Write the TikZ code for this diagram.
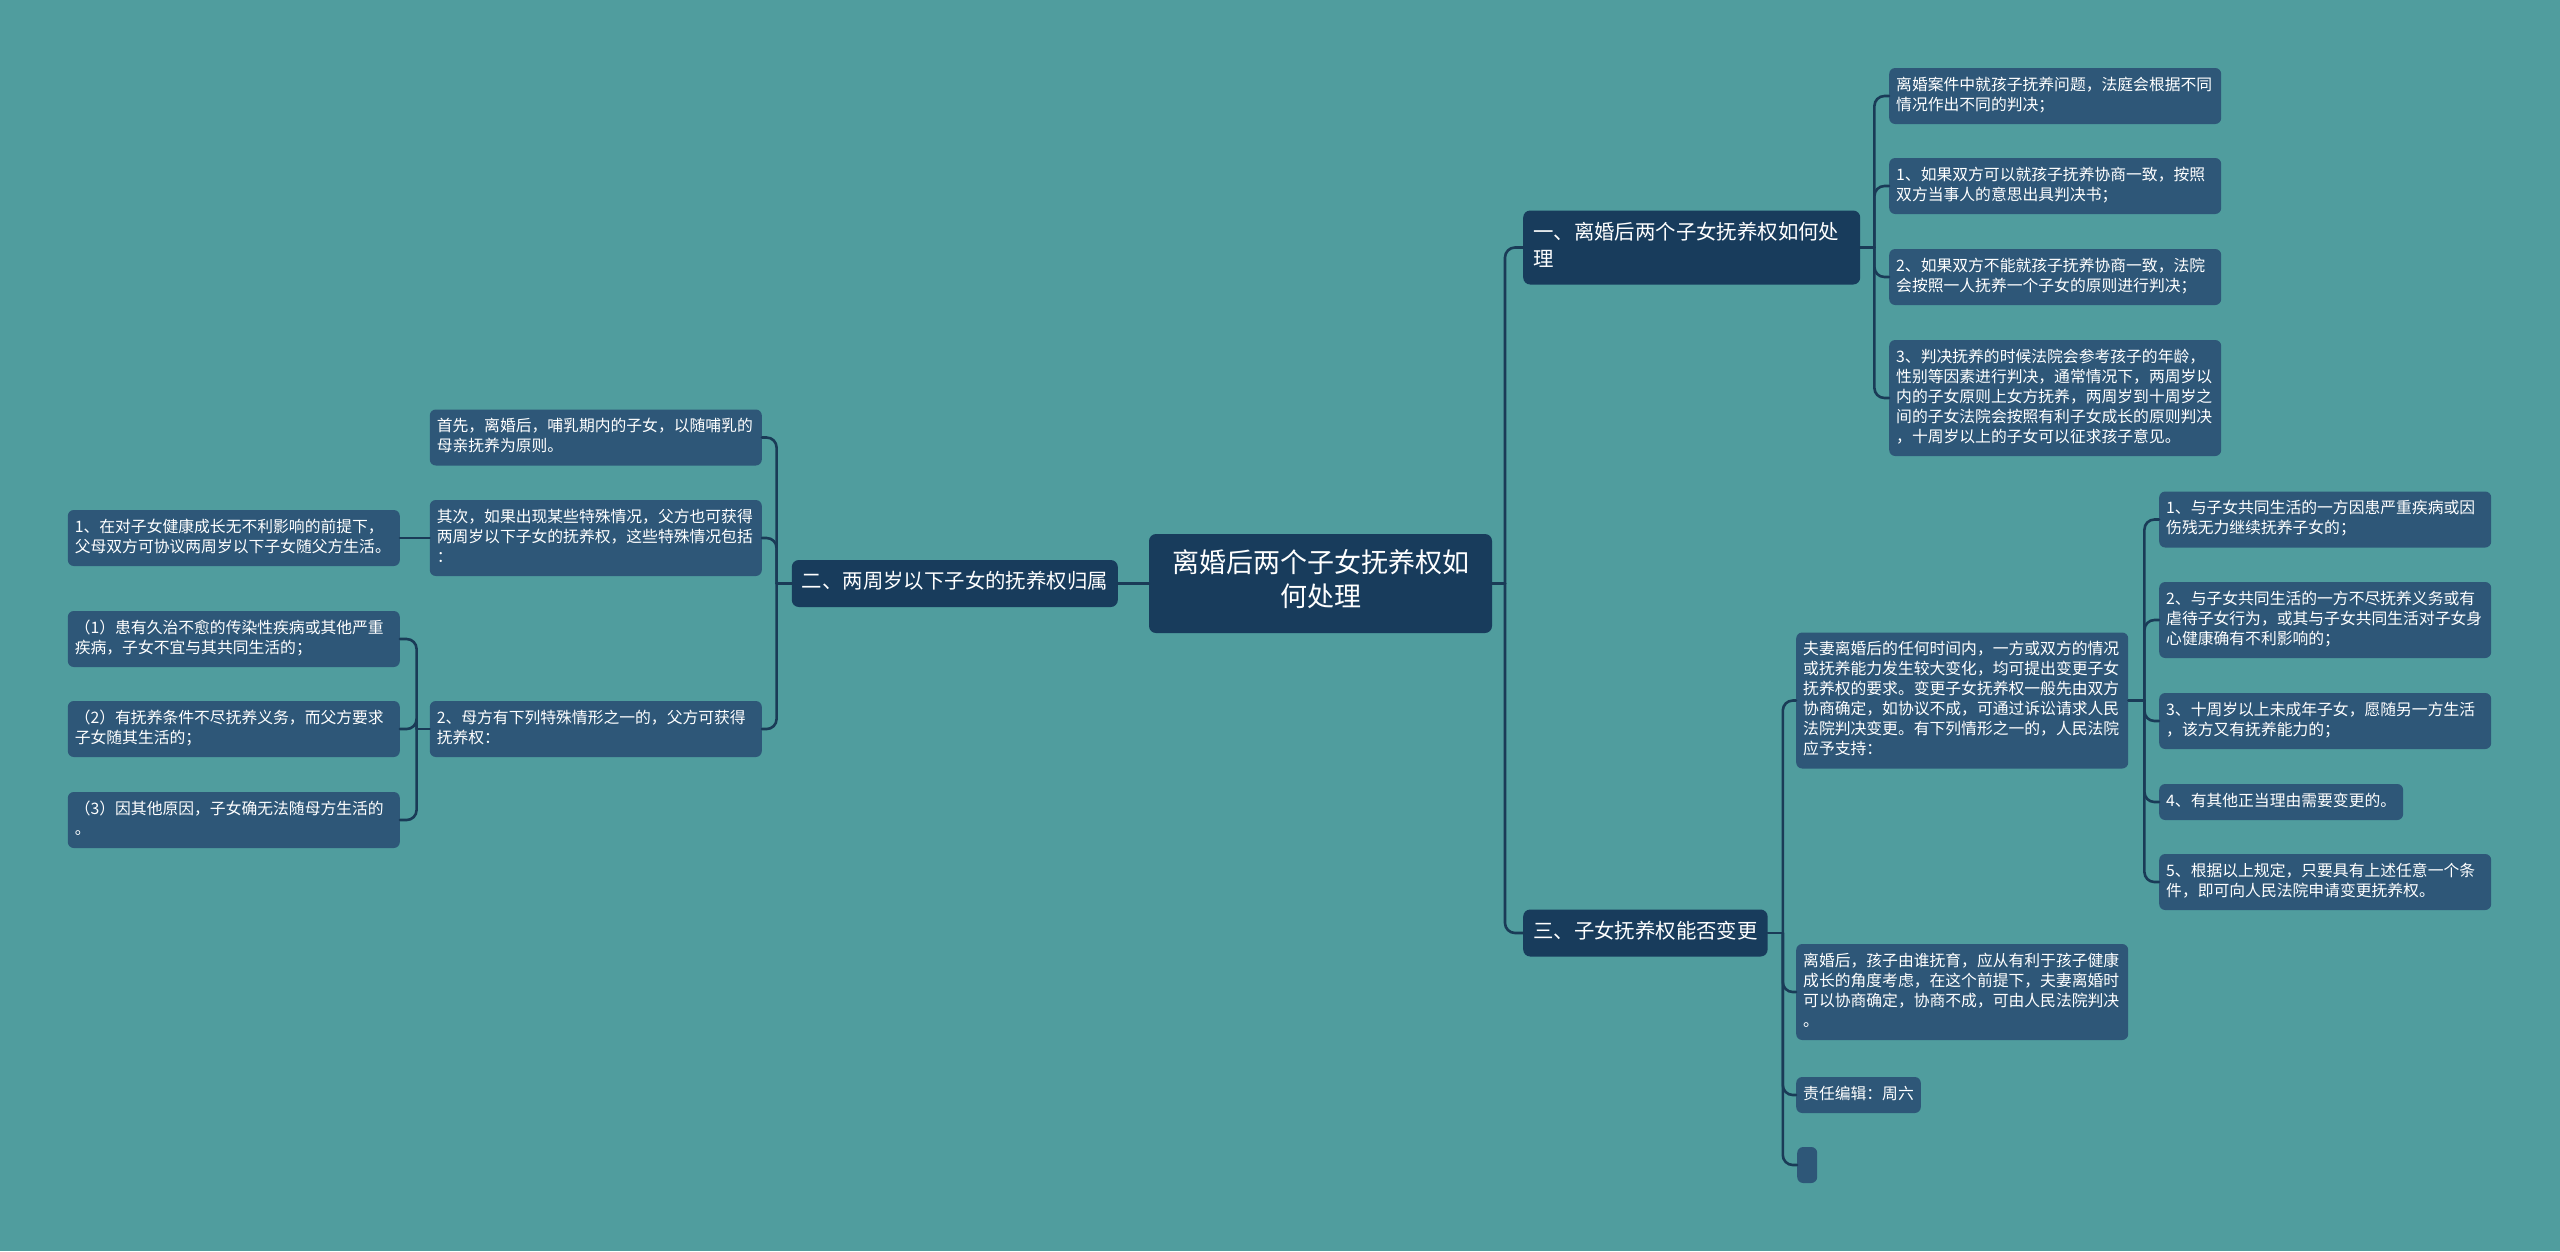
\documentclass[tikz,border=0pt]{standalone}
\usepackage{fontspec}
\setmainfont{Noto Sans CJK SC}
\usetikzlibrary{calc}
\definecolor{bgteal}{RGB}{80,157,158}
\definecolor{rootblue}{RGB}{24,60,92}
\definecolor{leafblue}{RGB}{46,87,120}
\definecolor{wirecol}{RGB}{26,59,87}
\tikzstyle{every path}=[line cap=round,line join=round]

\begin{document}
\begin{tikzpicture}[x=1pt,y=-1pt]
	\tikzstyle{topic} = [fill=rootblue, rounded corners=7pt, text=white, inner xsep=10pt, inner ysep=10pt,
		align=left, font=\fontsize{20.4}{27}\selectfont, execute at begin node={\strut}, execute at end node={\strut}]
	\tikzstyle{tag} = [fill=leafblue, rounded corners=6pt, text=white, inner xsep=7pt, inner ysep=8pt,
		font=\fontsize{15.8}{20}\selectfont, execute at begin node={\strut}, execute at end node={\strut}]
	\tikzstyle{leaf} = [tag, text width=318pt, align=left]
	\tikzstyle{wire} = [draw=wirecol, line width=2.6pt, rounded corners=10pt]
	
	\fill[bgteal] (0,0) rectangle (2560,1251);
	\useasboundingbox (0,0) rectangle (2560,1251);
	
	\node[topic, align=center, inner sep=0pt, minimum width=343pt, minimum height=99pt,
		font=\fontsize{27}{34}\selectfont] (root) at (1320.5,583.5) {离婚后两个子女抚养权如\\何处理};
	
	\node[topic, anchor=west, text width=317pt] (sec1) at (1523,247.5) {一、离婚后两个子女抚养权如何处\\理};
	\node[topic, anchor=east] (sec2) at (1118,583.5) {二、两周岁以下子女的抚养权归属};
	\node[topic, anchor=west] (sec3) at (1523,933) {三、子女抚养权能否变更};
	
	\node[leaf, anchor=west] (judge) at (1889,96) {离婚案件中就孩子抚养问题，法庭会根据不同\\情况作出不同的判决；};
	\node[leaf, anchor=west] (agree) at (1889,186) {1、如果双方可以就孩子抚养协商一致，按照\\双方当事人的意思出具判决书；};
	\node[leaf, anchor=west] (noagree) at (1889,277) {2、如果双方不能就孩子抚养协商一致，法院\\会按照一人抚养一个子女的原则进行判决；};
	\node[leaf, anchor=west] (age) at (1889,398) {3、判决抚养的时候法院会参考孩子的年龄，\\性别等因素进行判决，通常情况下，两周岁以\\内的子女原则上女方抚养，两周岁到十周岁之\\间的子女法院会按照有利子女成长的原则判决\\，十周岁以上的子女可以征求孩子意见。};
	
	\node[leaf, anchor=west] (change) at (1796,700.5) {夫妻离婚后的任何时间内，一方或双方的情况\\或抚养能力发生较大变化，均可提出变更子女\\抚养权的要求。变更子女抚养权一般先由双方\\协商确定，如协议不成，可通过诉讼请求人民\\法院判决变更。有下列情形之一的，人民法院\\应予支持：};
	\node[leaf, anchor=west] (casea) at (2159,519.5) {1、与子女共同生活的一方因患严重疾病或因\\伤残无力继续抚养子女的；};
	\node[leaf, anchor=west] (caseb) at (2159,620) {2、与子女共同生活的一方不尽抚养义务或有\\虐待子女行为，或其与子女共同生活对子女身\\心健康确有不利影响的；};
	\node[leaf, anchor=west] (casec) at (2159,721) {3、十周岁以上未成年子女，愿随另一方生活\\，该方又有抚养能力的；};
	\node[tag, anchor=west] (cased) at (2159,802) {4、有其他正当理由需要变更的。};
	\node[leaf, anchor=west] (casee) at (2159,882) {5、根据以上规定，只要具有上述任意一个条\\件，即可向人民法院申请变更抚养权。};
	\node[leaf, anchor=west] (raise) at (1796,992) {离婚后，孩子由谁抚育，应从有利于孩子健康\\成长的角度考虑，在这个前提下，夫妻离婚时\\可以协商确定，协商不成，可由人民法院判决\\。};
	\node[tag, anchor=west] (editor) at (1796,1095) {责任编辑：周六};
	\node[tag, anchor=west, inner sep=0pt, minimum width=20pt, minimum height=36pt,
		execute at begin node={}, execute at end node={}] (blank) at (1797,1165) {};
	
	\node[leaf, anchor=east] (nurse) at (762,437.5) {首先，离婚后，哺乳期内的子女，以随哺乳的\\母亲抚养为原则。};
	\node[leaf, anchor=east] (special) at (762,538) {其次，如果出现某些特殊情况，父方也可获得\\两周岁以下子女的抚养权，这些特殊情况包括\\：};
	\node[leaf, anchor=east] (mother) at (762,729) {2、母方有下列特殊情形之一的，父方可获得\\抚养权：};
	\node[leaf, anchor=east] (father) at (400,538) {1、在对子女健康成长无不利影响的前提下，\\父母双方可协议两周岁以下子女随父方生活。};
	\node[leaf, anchor=east] (ill) at (400,639) {（1）患有久治不愈的传染性疾病或其他严重\\疾病，子女不宜与其共同生活的；};
	\node[leaf, anchor=east] (duty) at (400,729) {（2）有抚养条件不尽抚养义务，而父方要求\\子女随其生活的；};
	\node[leaf, anchor=east] (other) at (400,820) {（3）因其他原因，子女确无法随母方生活的\\。};
	
	\coordinate (jroot) at (1505,583.5);
	\draw[wire] (root.east) -- (jroot);
	\draw[wire] (jroot) |- (sec1.west);
	\draw[wire] (jroot) |- (sec3.west);
	\draw[wire] (root.west) -- (sec2.east);
	
	\coordinate (j1) at ($(sec1.east)+(14,0)$);
	\draw[wire] (sec1.east) -- (j1);
	\foreach \n in {judge,agree,noagree,age}
		\draw[wire] (j1) |- (\n.west);
	
	\coordinate (j3) at ($(sec3.east)+(15,0)$);
	\draw[wire] (sec3.east) -- (j3);
	\foreach \n in {change,raise,editor,blank}
		\draw[wire] (j3) |- (\n.west);
	
	\coordinate (jc) at ($(change.east)+(16,0)$);
	\draw[wire] (change.east) -- (jc);
	\foreach \n in {casea,caseb,casec,cased,casee}
		\draw[wire] (jc) |- (\n.west);
	
	\coordinate (j2) at ($(sec2.west)+(-15,0)$);
	\draw[wire] (sec2.west) -- (j2);
	\foreach \n in {nurse,special,mother}
		\draw[wire] (j2) |- (\n.east);
	\draw[wire] (special.west) -- (father.east);
	
	\coordinate (jm) at ($(mother.west)+(-13,0)$);
	\draw[wire] (mother.west) -- (jm);
	\foreach \n in {ill,duty,other}
		\draw[wire] (jm) |- (\n.east);
\end{tikzpicture}
\end{document}
